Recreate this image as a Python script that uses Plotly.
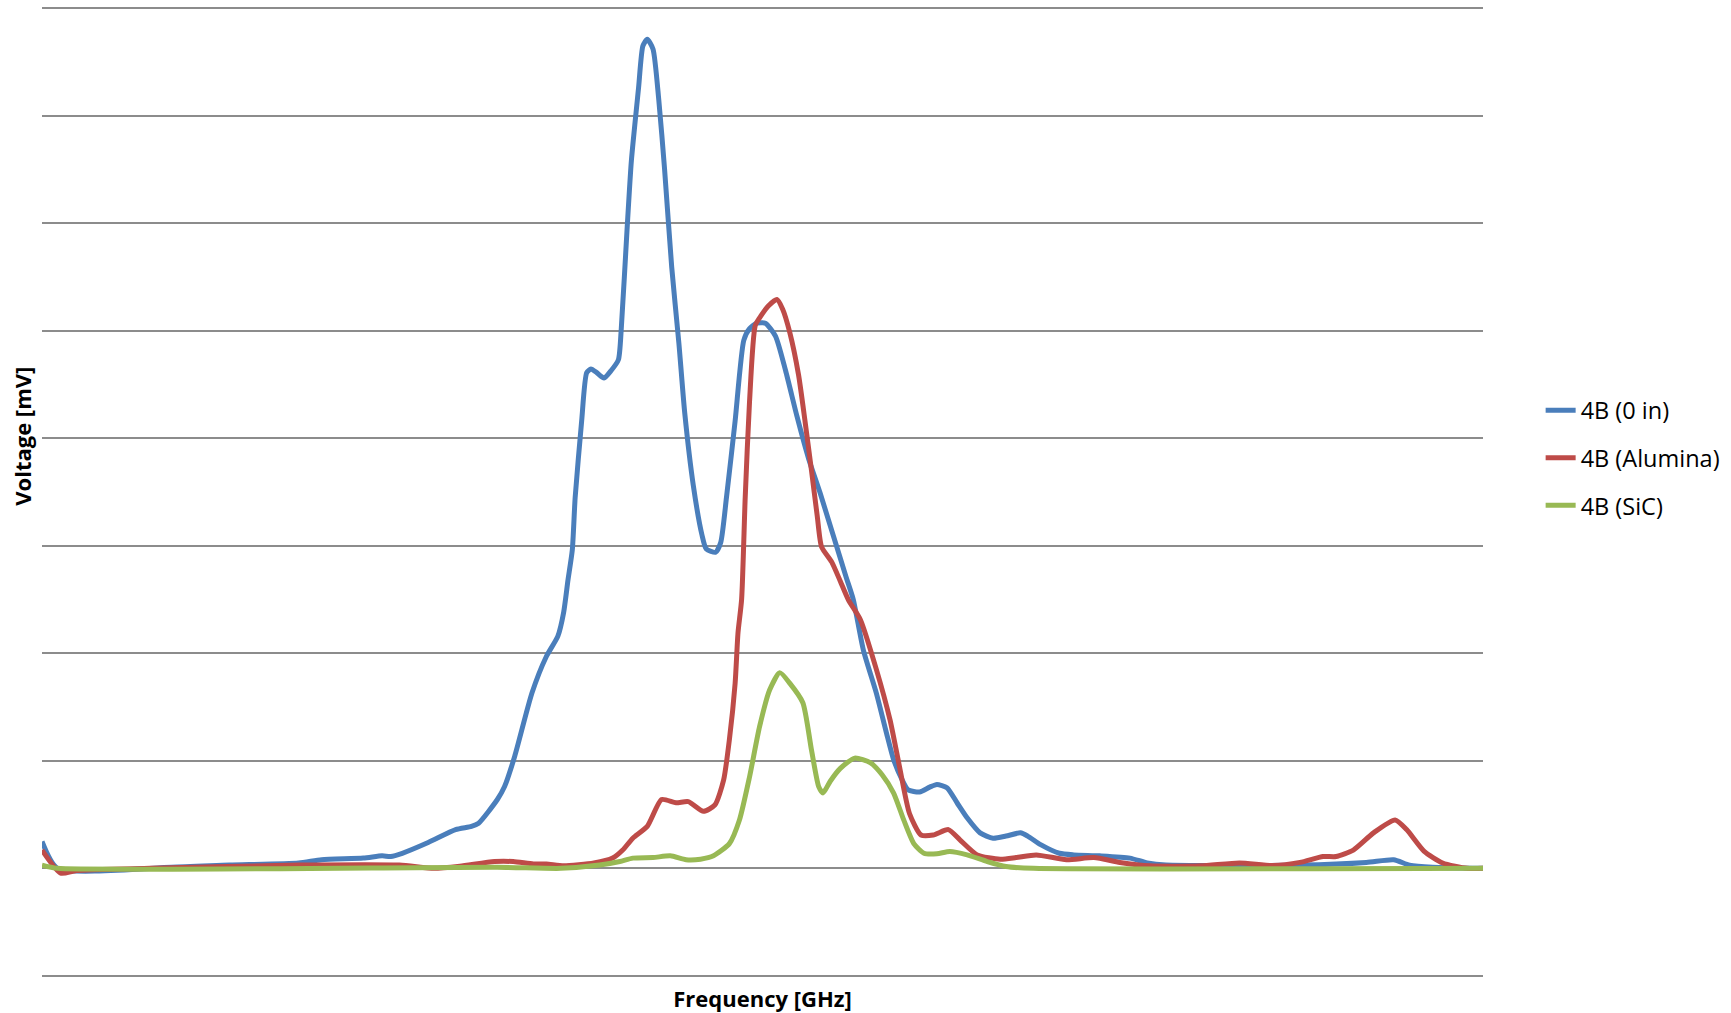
import plotly.graph_objects as go

# Frequency positions (arbitrary units across the axis, no tick labels shown) and voltages
freq_0in = [0.0, 1.07, 9.0, 13.0, 17.8, 19.4, 22.3, 23.6, 24.2, 25.0, 26.8, 28.7, 29.8, 30.3,
            31.6, 32.1, 32.8, 34.0, 35.0, 35.8, 36.2, 36.5, 36.8, 37.0, 37.45, 37.8, 38.1,
            38.5, 39.0, 39.5, 40.0, 40.2, 40.6, 40.9, 41.4, 41.7, 42.0, 42.4, 42.8, 43.2,
            43.7, 44.2, 44.6, 45.2, 45.8, 46.1, 46.75, 47.1, 47.5, 48.1, 48.7, 49.1, 49.6,
            50.2, 50.9, 51.6, 52.4, 53.2, 54.0, 54.9, 55.8, 56.3, 57.0, 57.9, 58.6, 59.1,
            59.7, 60.1, 60.9, 61.6, 62.1, 62.8, 63.5, 64.2, 65.1, 66.0, 66.9, 67.9, 68.4,
            69.3, 70.6, 71.6, 73.4, 75.5, 76.7, 78.0, 87.3, 91.9, 93.8, 94.9, 96.5, 100.0]
volt_0in = [0.25, 0.0, 0.01, 0.03, 0.05, 0.08, 0.095, 0.116, 0.11, 0.14, 0.24, 0.36, 0.39, 0.42,
            0.64, 0.76, 1.04, 1.63, 1.97, 2.16, 2.38, 2.68, 2.96, 3.45, 4.16, 4.61, 4.645,
            4.61, 4.56, 4.63, 4.73, 5.02, 5.94, 6.58, 7.26, 7.65, 7.71, 7.62, 7.15, 6.51,
            5.59, 4.88, 4.24, 3.56, 3.10, 2.97, 2.94, 3.03, 3.45, 4.16, 4.91, 5.02, 5.07,
            5.07, 4.95, 4.63, 4.20, 3.81, 3.49, 3.10, 2.71, 2.50, 2.03, 1.63, 1.26, 1.01,
            0.82, 0.73, 0.71, 0.755, 0.78, 0.75, 0.61, 0.47, 0.33, 0.28, 0.30, 0.33, 0.30,
            0.22, 0.14, 0.125, 0.116, 0.095, 0.05, 0.03, 0.03, 0.055, 0.08, 0.03, 0.01, 0.0]

freq_alumina = [0.0, 1.3, 2.4, 7.5, 17.9, 24.8, 27.2, 29.0, 31.4, 32.7, 34.1, 35.0, 36.2, 38.3,
                39.6, 40.3, 41.0, 42.0, 43.0, 44.0, 44.85, 45.9, 46.7, 47.3, 47.7, 48.1, 48.3,
                48.55, 48.8, 49.1, 49.5, 49.9, 50.4, 51.0, 51.4, 51.9, 52.5, 52.95, 53.4, 53.8,
                54.1, 54.8, 55.4, 55.95, 56.8, 57.9, 58.85, 59.5, 60.2, 61.0, 61.85, 62.9,
                63.7, 64.9, 66.5, 67.6, 69.0, 71.1, 73.0, 74.8, 76.9, 80.4, 83.1, 85.4, 87.3,
                88.9, 89.8, 91.0, 92.4, 93.9, 94.7, 95.9, 97.2, 98.9, 100.0]
volt_alumina = [0.17, -0.045, -0.02, 0.0, 0.03, 0.03, 0.0, 0.02, 0.063, 0.063, 0.04, 0.04, 0.023,
                0.05, 0.095, 0.17, 0.28, 0.39, 0.64, 0.61, 0.62, 0.53, 0.59, 0.82, 1.195, 1.72,
                2.19, 2.50, 3.45, 4.34, 5.05, 5.14, 5.23, 5.29, 5.20, 4.98, 4.59, 4.16, 3.70,
                3.275, 2.99, 2.85, 2.67, 2.50, 2.31, 1.85, 1.38, 0.95, 0.51, 0.31, 0.31, 0.36,
                0.265, 0.125, 0.085, 0.10, 0.125, 0.08, 0.10, 0.055, 0.023, 0.023, 0.05, 0.026,
                0.055, 0.11, 0.11, 0.17, 0.33, 0.45, 0.36, 0.16, 0.05, 0.0, 0.0]

freq_sic = [0.0, 1.07, 31.6, 36.0, 38.7, 40.1, 41.0, 42.4, 43.6, 44.7, 45.7, 46.6, 47.7, 48.4,
            49.1, 49.8, 50.5, 51.2, 51.9, 52.8, 53.4, 53.9, 54.2, 54.7, 55.4, 56.4, 57.5,
            58.3, 59.1, 59.8, 60.5, 61.2, 62.1, 63.0, 64.2, 65.6, 66.9, 68.8, 100.0]
volt_sic = [0.03, 0.0, 0.01, 0.0, 0.03, 0.063, 0.095, 0.10, 0.116, 0.08, 0.085, 0.116, 0.23, 0.45,
            0.85, 1.32, 1.66, 1.82, 1.72, 1.54, 1.10, 0.76, 0.70, 0.81, 0.93, 1.025, 0.98,
            0.87, 0.70, 0.45, 0.23, 0.14, 0.135, 0.156, 0.125, 0.063, 0.017, 0.0, 0.0]

series_names = ["4B (0 in)", "4B (Alumina)", "4B (SiC)"]
series_colors = ["#4A7EBB", "#BE4B48", "#98B954"]

fig = go.Figure()
for name, xs, ys, col in zip(series_names,
                             [freq_0in, freq_alumina, freq_sic],
                             [volt_0in, volt_alumina, volt_sic],
                             series_colors):
    fig.add_trace(go.Scatter(
        x=xs, y=ys, mode="lines", name=name, legendgroup=name,
        line=dict(color=col, width=5, shape="spline", smoothing=0.6),
    ))

fig.update_layout(
    width=1731, height=1013,
    margin=dict(l=42, r=248, t=6, b=35),
    paper_bgcolor="white", plot_bgcolor="white",
    font=dict(family="Open Sans, Lato, sans-serif", size=22, color="black"),
    showlegend=True,
    legend=dict(
        x=1.040, y=0.535, xanchor="left", yanchor="middle",
        font=dict(size=23.5), tracegroupgap=14, traceorder="grouped",
        bgcolor="rgba(0,0,0,0)",
    ),
    xaxis=dict(
        range=[0, 100], showgrid=False, zeroline=False, showline=False,
        showticklabels=False, ticks="",
        title=dict(text="<b>Frequency [GHz]</b>", font=dict(size=22), standoff=15),
    ),
    yaxis=dict(
        range=[-1.02, 8.02], dtick=1, tick0=0, showgrid=True, gridcolor="#8C8C8C",
        gridwidth=2, zeroline=False, showline=False, showticklabels=False, ticks="",
    ),
    annotations=[dict(
        text="<b>Voltage [mV]</b>", textangle=-90, xref="paper", yref="paper",
        x=-0.0139, y=(976 - 436) / 968, xanchor="center", yanchor="middle",
        showarrow=False, font=dict(size=22),
    )],
)

fig.write_html("out.html", config={"displayModeBar": False},
               post_script="document.body.style.margin='0';")
